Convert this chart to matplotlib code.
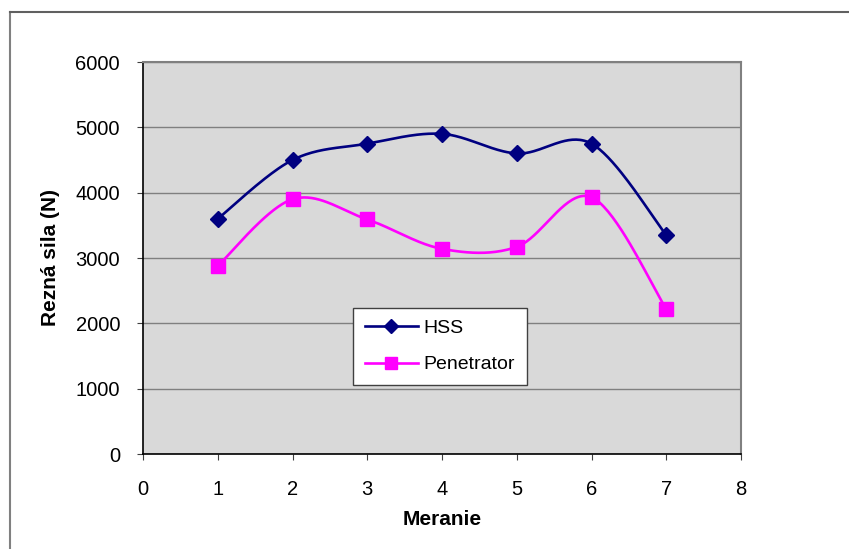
import numpy as np
import matplotlib
matplotlib.use("Agg")
import matplotlib.pyplot as plt
from matplotlib.lines import Line2D

x_vals = [1, 2, 3, 4, 5, 6, 7]
hss = [3600, 4500, 4750, 4900, 4600, 4750, 3350]
penetrator = [2880, 3900, 3590, 3140, 3170, 3930, 2220]
x_ticks = [0, 1, 2, 3, 4, 5, 6, 7, 8]
y_ticks = [0, 1000, 2000, 3000, 4000, 5000, 6000]

plt.rcParams['font.family'] = ['Liberation Sans', 'DejaVu Sans']

W, H = 849, 549
fig = plt.figure(figsize=(W / 100, H / 100), dpi=100)
fig.patch.set_facecolor('white')

# outer chart-area frame (top and left visible)
fig.add_artist(Line2D([9.5 / W, 9.5 / W], [0, 1 - 12 / H], transform=fig.transFigure,
                      color='#808080', lw=1.5))
fig.add_artist(Line2D([9.5 / W, 1], [1 - 12 / H, 1 - 12 / H], transform=fig.transFigure,
                      color='#606060', lw=1.5))

ax = fig.add_axes([143 / W, (H - 454) / H, (741 - 143) / W, (454 - 62) / H])
ax.set_facecolor('#D9D9D9')
ax.set_xlim(0, 8)
ax.set_ylim(0, 6000)
ax.set_xticks(x_ticks)
ax.set_yticks(y_ticks)
ax.yaxis.grid(True, color='#808080', lw=1)
ax.set_axisbelow(True)
for s in ['left', 'bottom']:
    ax.spines[s].set_color('black')
    ax.spines[s].set_linewidth(1.2)
for s in ['right', 'top']:
    ax.spines[s].set_color('#808080')
    ax.spines[s].set_linewidth(1.5)
ax.tick_params(axis='both', direction='out', length=4.5, width=0.8, color='#404040',
               labelsize=14.5)
ax.tick_params(axis='y', pad=12)
ax.tick_params(axis='x', pad=14)


def smooth(xs, ys, n=40):
    xs = np.asarray(xs, float)
    ys = np.asarray(ys, float)
    P = np.column_stack([xs, ys])
    out = []
    for i in range(len(P) - 1):
        p0 = P[i - 1] if i > 0 else P[i]
        p1 = P[i]
        p2 = P[i + 1]
        p3 = P[i + 2] if i + 2 < len(P) else P[i + 1]
        c1 = p1 + (p2 - p0) / 6
        c2 = p2 - (p3 - p1) / 6
        t = np.linspace(0, 1, n)[:, None]
        seg = ((1 - t) ** 3) * p1 + 3 * ((1 - t) ** 2) * t * c1 + 3 * (1 - t) * t ** 2 * c2 + t ** 3 * p2
        out.append(seg if i == 0 else seg[1:])
    seg = np.vstack(out)
    return seg[:, 0], seg[:, 1]


hx, hy = smooth(x_vals, hss)
px, py = smooth(x_vals, penetrator)
navy = '#000080'
mag = '#FF00FF'
ax.plot(hx, hy, color=navy, lw=1.9, zorder=3)
ax.plot(x_vals, hss, ls='none', marker='D', ms=8.5, color=navy, zorder=4)
ax.plot(px, py, color=mag, lw=1.9, zorder=3)
ax.plot(x_vals, penetrator, ls='none', marker='s', ms=9.5, color=mag, zorder=4)

ax.set_ylabel('Rezná sila (N)', fontsize=15, fontweight='bold', labelpad=11)
ax.set_xlabel('Meranie', fontsize=15, fontweight='bold', labelpad=8)

handles = [Line2D([], [], color=navy, lw=1.9, marker='D', ms=7.5),
           Line2D([], [], color=mag, lw=1.9, marker='s', ms=8)]
leg = ax.legend(handles, ['HSS', 'Penetrator'], loc='upper left',
                bbox_to_anchor=((353 - 143) / 598, (454 - 308) / 392),
                fontsize=14, frameon=True, fancybox=False, framealpha=1,
                edgecolor='#404040', handlelength=2.73, labelspacing=0.95,
                borderpad=0.6, handletextpad=0.3, borderaxespad=0)
leg.get_frame().set_linewidth(1)

fig.savefig('out.png', dpi=100)
